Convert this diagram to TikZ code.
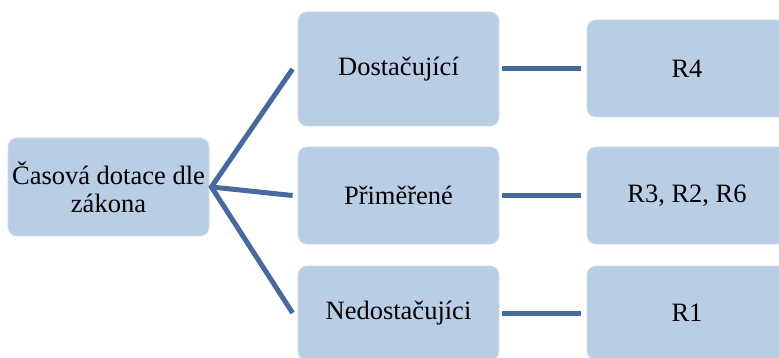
\documentclass[tikz,border=0pt]{standalone}
\usepackage{fontspec}
\setmainfont{Liberation Serif}
\definecolor{boxfill}{RGB}{185,205,229}
\definecolor{linkcol}{RGB}{70,106,155}
\begin{document}
\begin{tikzpicture}[x=1pt,y=-1pt,
  box/.style={rectangle, rounded corners=9pt, fill=boxfill, draw=boxfill!70!white, line width=0.8pt,
    inner sep=0pt, align=center, font=\fontsize{26.5}{28}\selectfont},
  link/.style={draw=linkcol, line width=5pt}]
\useasboundingbox (0,0) rectangle (779,358);
\clip (0,0) rectangle (779,358);
\node[box, minimum width=201pt, minimum height=98pt] (root) at (108.5,187) {Časová dotace dle\\zákona};
\node[box, minimum width=201pt, minimum height=114pt] (m1) at (398.5,69) {Dostačující};
\node[box, minimum width=201pt, minimum height=97pt] (m2) at (398.5,195.5) {Přiměřené};
\node[box, minimum width=201pt, minimum height=94pt] (m3) at (398.5,313) {Nedostačujíci};
\node[box, minimum width=200pt, minimum height=97pt] (r1) at (687,68.5) {R4};
\node[box, minimum width=200pt, minimum height=97pt] (r2) at (687,195.5) {R3, R2, R6};
\node[box, minimum width=200pt, minimum height=94pt] (r3) at (687,313) {R1};
\coordinate (hub) at ([xshift=2pt]root.east);
\coordinate (e1) at ([xshift=-5pt]m1.west);
\coordinate (e2) at ([xshift=-5pt]m2.west);
\coordinate (e3) at ([xshift=-5pt]m3.west);
\draw[link] (e1) -- (hub) -- (e3);
\draw[link] (hub) -- (e2);
\draw[link] ([xshift=3pt]m1.east) -- ([xshift=-6pt]r1.west |- m1.east);
\draw[link] ([xshift=3pt]m2.east) -- ([xshift=-6pt]r2.west);
\draw[link] ([xshift=3pt]m3.east) -- ([xshift=-6pt]r3.west);
\end{tikzpicture}
\end{document}
